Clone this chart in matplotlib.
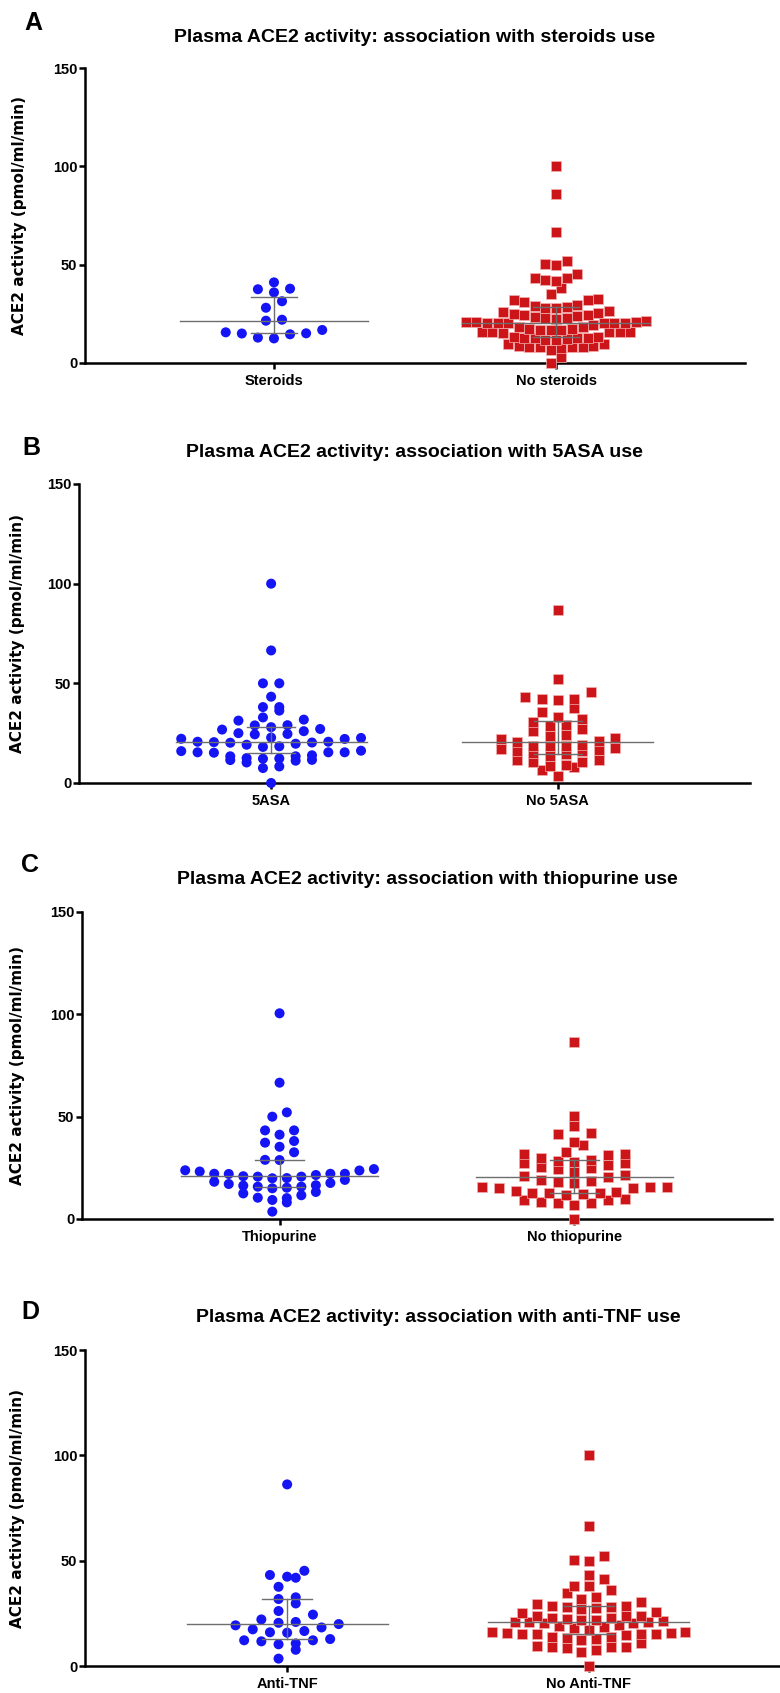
import numpy as np
import matplotlib
matplotlib.use("Agg")
import matplotlib.pyplot as plt

plt.rcParams['font.family'] = ['Liberation Sans', 'DejaVu Sans']
plt.rcParams['font.weight'] = 'bold'

# ---- data (ACE2 activity, pmol/ml/min) ----
steroids = [41, 37.5, 37.8, 35.9, 31.4, 28.1, 21.5, 22, 15.6, 14.6, 15.1, 16.8, 15, 12.9, 12.5]
no_steroids = [26.6, 19.5, 25.2, 21, 17.1, 12.5, 24, 20.3, 15.6, 8.3,
               29.5, 24.9, 21, 16.8, 12.5, 8.6, 27.9, 22.2, 17.5, 13.4, 8.3,
               43, 29, 23.5, 18.5, 13.4, 8.8,
               50.2, 43, 38, 30.8, 26, 21.3, 16.8, 12, 7.5, 0,
               100, 86, 66.4, 51.9, 41.9, 35.2, 28.6, 24.4, 20.3, 16, 11.8, 6.7,
               50, 42, 32.4, 21, 16.8, 12.5, 8.3, 3.2,
               45.2, 32, 24.4, 20.3, 15.6, 9.7, 32.2, 27.9, 22.8, 15.5, 9.8,
               20.5, 16, 11.8, 20.3, 15.6, 8.3, 22.9, 18.2, 12.5, 20.5]

asa = [100, 66.5, 50, 50, 43.3, 38.1, 38.1, 36.3, 31.8, 32.9, 31.3, 27.1, 28.9, 28, 29,
       24.4, 22.1, 25, 26, 26.8, 24.6, 22.6, 18.4, 13.9, 20.7, 15.4, 12.2, 12.3, 20.2,
       15.2, 8.3, 19.7, 15.4, 10.3, 0, 20.3, 16, 11.6, 7.5, 20.5, 13.4, 11.5, 19.2, 13.4,
       11.2, 22.2, 16.2, 22.8, 18.1, 12.5, 20.7, 15.4]
no_asa = [86.6, 52.2, 45.5, 41.5, 43.3, 42.3, 42.1, 37.6, 35.4, 32.1, 33.1, 28.4, 30.4,
          27.2, 29.3, 23.7, 24.1, 19.2, 25.9, 22, 17.1, 10.3, 18.4, 20.4, 15.9, 22.6,
          18.4, 15.9, 11.7, 7.8, 18.4, 14.6, 10.3, 3.7, 17.5, 13.4, 9.2, 20.9, 16.6,
          11.7, 6.7, 14.8, 8.3]

thio = [100.5, 66.6, 52.1, 50, 43.3, 43.3, 41.2, 38.1, 37.3, 35.3, 32.6, 28.8, 28.9,
        24.4, 23.8, 23.7, 23.2, 22.1, 20.7, 22.1, 22.1, 22, 19.1, 15.8, 10.4, 3.6, 18.2,
        19.9, 15.3, 10.2, 21.5, 17.1, 12.5, 20.7, 15.8, 20, 20.9, 16.3, 16.5, 11.6,
        17.6, 13.2, 15, 9.3, 8.1]
no_thio = [86.3, 50.5, 45.4, 42.2, 37.8, 41.7, 36.2, 32.9, 29, 24.9, 20.8, 15.8, 27.2,
           12.9, 8.5, 31.3, 26.4, 20.4, 15.5, 9.9, 32, 24.4, 18.6, 11.7, 7.7, 28.3,
           21.5, 17.4, 12, 7.8, 32, 27.2, 15.8, 6.8, 28, 23.2, 18.1, 12.9, 9.3, 29.6,
           25.6, 19, 13.2, 9.3, 12.5, 15.3, 13.7, 15, 0]

anti_tnf = [86.2, 45.2, 42.4, 43.2, 41.9, 37.6, 32.6, 31.8, 29.7, 26.1, 24.4, 22.1, 19.9,
            20.5, 18.3, 19.3, 20.9, 17.4, 15.8, 16, 16.6, 12.8, 11.7, 10.3, 10.7, 12.2,
            12.2, 7.7, 3.5]
no_anti_tnf = [100.3, 66.4, 52.2, 50.3, 49.8, 43.2, 38, 41.1, 36.2, 38, 32.9, 31.7, 29.3,
               34.5, 30.5, 25.3, 21, 15.8, 9.2, 28.1, 23.8, 28.4, 21, 17.1, 12.3, 7.6,
               28.6, 23.8, 18.7, 13.9, 6.8, 28.1, 23.8, 20.5, 15.8, 8.9, 27.3, 23, 19.5,
               14.6, 9.2, 25.8, 20.5, 15.3, 8.4, 21.8, 15.3, 10.8, 21, 13.1, 19, 12.9,
               22.1, 16.3, 15.3, 9.5, 21.8, 17.9, 13.9, 23, 15.2, 27, 21.4, 16.3, 0]

panels = [
    ('A', 'Plasma ACE2 activity: association with steroids use',
     ['Steroids', 'No steroids'], steroids, no_steroids),
    ('B', 'Plasma ACE2 activity: association with 5ASA use',
     ['5ASA', 'No 5ASA'], asa, no_asa),
    ('C', 'Plasma ACE2 activity: association with thiopurine use',
     ['Thiopurine', 'No thiopurine'], thio, no_thio),
    ('D', 'Plasma ACE2 activity: association with anti-TNF use',
     ['Anti-TNF', 'No Anti-TNF'], anti_tnf, no_anti_tnf),
]

# pixel layout: (left, right, y of 150, y of 0, title y, letter x, letter y, ylabel x)
boxes = [
    (85, 745, 68, 363, 38, 33, 23, 20),
    (79, 750, 484, 783, 453, 31, 448, 18),
    (82, 772, 912, 1219, 880, 30, 865, 18),
    (85, 791, 1350, 1666, 1318, 30, 1312, 18),
]

W, H = 780, 1693
BLUE = '#1414f5'
RED = '#cc1519'
LINE = '#6e6e6e'


def column_scatter(values, center, row_h=4.6, dx_max=0.057, max_width=0.64):
    """Prism-like column scatter: near-equal values share a row, centred."""
    v = np.sort(np.asarray(values, dtype=float))
    rows = []
    start = None
    for val in v:
        if start is None or val - start >= row_h:
            rows.append([])
            start = val
        rows[-1].append(val)
    nmax = max(len(r) for r in rows)
    dx = min(dx_max, max_width / max(nmax - 1, 1))
    xs, ys = [], []
    for r in rows:
        n = len(r)
        offs = (np.arange(n) - (n - 1) / 2) * dx
        order = np.argsort(np.abs(offs) + 1e-6 * offs, kind='stable')
        for val, k in zip(r, order):
            xs.append(center + offs[k])
            ys.append(val)
    return np.array(xs), np.array(ys)


def median_iqr(ax, values, center):
    q1, med, q3 = np.percentile(values, [25, 50, 75])
    ax.plot([center - 0.333, center + 0.333], [med, med], color=LINE, lw=1.0, zorder=4)
    ax.plot([center - 0.083, center + 0.083], [q1, q1], color=LINE, lw=1.0, zorder=4)
    ax.plot([center - 0.083, center + 0.083], [q3, q3], color=LINE, lw=1.0, zorder=4)
    ax.plot([center, center], [q1, q3], color=LINE, lw=1.0, zorder=4)


fig = plt.figure(figsize=(W / 100, H / 100), dpi=100)

for (letter, title, cats, g1, g2), box in zip(panels, boxes):
    left, right, ytop, ybot, ty, lx, ly, ylx = box
    ax = fig.add_axes([left / W, 1 - ybot / H, (right - left) / W, (ybot - ytop) / H])

    x1, y1 = column_scatter(g1, 0)
    x2, y2 = column_scatter(g2, 1)
    ax.scatter(x1, y1, s=52, marker='o', color=BLUE, edgecolors='none',
               zorder=3, clip_on=False)
    ax.scatter(x2, y2, s=44, marker='s', color=RED, edgecolors='#f2b0b0',
               linewidths=0.5, zorder=3, clip_on=False)
    median_iqr(ax, g1, 0)
    median_iqr(ax, g2, 1)

    ax.set_xlim(-0.67, 1.67)
    ax.set_ylim(0, 150)
    ax.set_yticks([0, 50, 100, 150])
    ax.set_xticks([0, 1])
    ax.set_xticklabels(cats, fontsize=10.5, fontweight='bold')
    for lab in ax.get_yticklabels():
        lab.set_fontweight('bold')
    ax.tick_params(axis='y', labelsize=10.5, length=4, width=1.8, pad=1.5)
    ax.tick_params(axis='x', length=4, width=1.8, pad=4)
    for side in ['top', 'right']:
        ax.spines[side].set_visible(False)
    for side in ['left', 'bottom']:
        ax.spines[side].set_linewidth(1.8)

    fig.text(lx / W, 1 - ly / H, letter, fontsize=18, fontweight='bold',
             ha='center', va='center')
    fig.text((left + right) / 2 / W, 1 - ty / H, title, fontsize=14,
             fontweight='bold', ha='center', va='center')
    fig.text(ylx / W, 1 - (ytop + ybot) / 2 / H, 'ACE2 activity (pmol/ml/min)',
             fontsize=11, fontweight='bold', family='DejaVu Sans',
             rotation=90, ha='center', va='center')

fig.savefig('out.png', dpi=100, facecolor='white')
